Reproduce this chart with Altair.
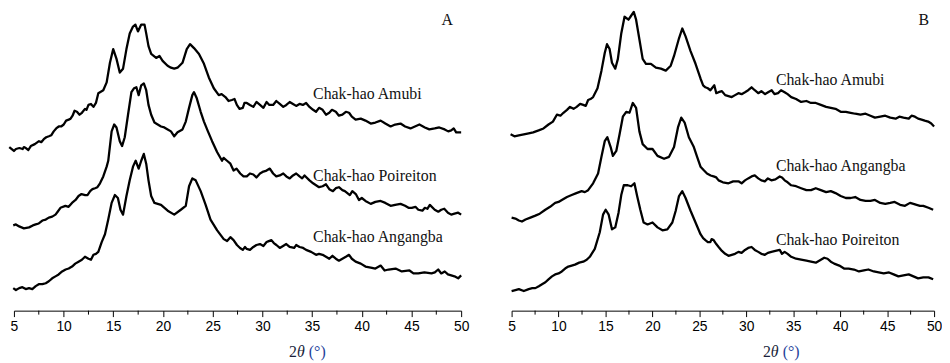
import altair as alt
import pandas as pd

# ---------------- Panel A data (2θ in degrees, intensity in arbitrary units) ----------------
A_amubi_x = [4.53, 5.2, 5.55, 5.87, 6.2, 6.7, 7.52, 8.0, 8.52, 9.0, 9.51, 10.01, 10.51, 10.9, 11.34, 11.84, 12.15, 12.5, 13.0, 13.49,
             13.99, 14.33, 14.66, 14.99, 15.32, 15.65, 15.98, 16.32, 16.65, 16.98, 17.22, 17.48, 17.81, 18.14, 18.31, 18.54, 18.81,
             19.31, 19.64, 19.96, 20.46, 20.8, 21.13, 21.46, 21.96, 22.39, 22.72, 23.12, 23.62, 24.12, 24.61, 25.11, 25.61, 26.28,
             26.93, 27.43, 28.03, 28.43, 29.09, 29.76, 30.42, 31.08, 31.75, 32.41, 33.08, 33.74, 34.07, 34.74, 35.4, 36.06, 36.73,
             37.39, 38.05, 38.72, 39.38, 40.37, 41.37, 42.37, 43.36, 44.36, 45.35, 46.35, 47.34, 48.34, 49.0, 49.5, 50.0,
             5.0, 6.0, 6.45, 7.1, 7.75, 8.25, 8.75, 9.25, 9.75, 10.25, 10.7, 11.1, 11.6, 12.3, 12.75, 13.25, 25.9, 26.6, 27.2,
             27.7, 28.2, 28.75, 29.4, 30.1, 30.7, 31.4, 32.1, 32.75, 33.4, 34.4, 35.1, 35.7, 36.4, 37.0, 37.7, 38.4, 39.0, 39.9,
             40.9, 41.9, 42.9, 43.9, 44.9, 45.8, 46.8, 47.8, 48.7, 49.25]
A_amubi_y = [167, 165, 166, 165, 166, 168, 173, 175, 178, 183, 188, 190, 195, 199, 203, 202, 206, 210, 208, 222,
             225, 233, 253, 267, 257, 243, 247, 267, 283, 290, 292, 285, 292, 292, 283, 270, 262,
             258, 260, 255, 250, 248, 247, 248, 253, 267, 272, 268, 262, 252, 238, 227, 220, 218,
             215, 210, 207, 212, 208, 210, 213, 210, 211, 210, 211, 211, 210, 208, 203, 205, 202,
             203, 200, 202, 195, 194, 192, 191, 190, 188, 188, 187, 186, 185, 184, 182, 182,
             163, 167, 164, 170, 172, 177, 179, 186, 188, 194, 196, 204, 200, 205, 211, 212, 221, 214, 216,
             206, 212, 210, 213, 207, 210, 214, 208, 213, 209, 212, 205, 207, 200, 205, 199, 203, 198, 196,
             191, 194, 188, 191, 186, 190, 185, 187, 183, 186]

A_poir_x = [4.93, 5.53, 6.52, 7.19, 7.86, 8.51, 9.18, 9.68, 10.18, 10.84, 11.5, 12.17, 12.67, 13.16, 13.66, 13.99, 14.33, 14.49,
            14.83, 15.09, 15.32, 15.65, 15.88, 16.15, 16.48, 16.82, 17.08, 17.32, 17.55, 17.81, 18.07, 18.31, 18.54, 18.81,
            19.14, 19.47, 19.8, 20.13, 20.47, 20.8, 21.13, 21.46, 21.96, 22.29, 22.62, 22.95, 23.12, 23.39, 23.79, 24.12,
            24.52, 24.94, 25.44, 25.94, 26.44, 26.78, 27.1, 27.77, 28.43, 29.09, 29.76, 30.42, 31.08, 31.75, 32.41, 33.08,
            33.74, 34.24, 34.74, 35.4, 36.06, 36.73, 37.39, 38.05, 38.55, 39.05, 39.72, 40.37, 41.37, 42.37, 43.36, 44.36,
            45.03, 45.69, 46.35, 46.85, 47.34, 48.0, 48.67, 49.33, 50.0,
            5.2, 6.0, 6.9, 7.5, 8.2, 8.85, 9.4, 10.5, 11.2, 11.8, 12.4, 12.9, 13.4, 26.1, 27.4, 28.1, 28.75, 29.4, 30.1,
            30.75, 31.4, 32.1, 32.75, 33.4, 34.0, 35.1, 35.7, 36.4, 37.1, 37.7, 38.3, 38.8, 39.4, 40.0, 40.9, 41.9, 42.9,
            43.9, 44.7, 45.4, 46.1, 46.6, 47.7, 48.3, 49.0, 49.7]
A_poir_y = [87, 86, 85, 88, 92, 95, 98, 105, 107, 110, 117, 118, 122, 125, 130, 137, 147, 153,
            183, 190, 187, 173, 168, 177, 200, 223, 227, 228, 220, 230, 232, 225, 210, 200,
            192, 190, 188, 187, 185, 183, 178, 182, 185, 193, 207, 220, 223, 217, 203, 193,
            183, 173, 162, 153, 153, 150, 143, 140, 137, 139, 140, 143, 140, 138, 137, 138,
            137, 138, 133, 128, 127, 124, 125, 123, 120, 122, 113, 112, 111, 110, 108, 107,
            105, 103, 105, 108, 103, 103, 100, 99, 98,
            88, 84, 87, 89, 93, 96, 101, 106, 113, 119, 118, 124, 126, 156, 145, 137, 140, 136, 142,
            145, 137, 140, 135, 140, 135, 130, 126, 129, 122, 126, 122, 118, 119, 115, 109, 112, 107,
            109, 105, 106, 102, 104, 101, 104, 98, 100]

A_ang_x = [4.93, 5.53, 6.19, 6.52, 7.19, 7.86, 8.51, 9.18, 9.85, 10.51, 11.17, 11.84, 12.5, 13.0, 13.49, 13.83, 14.16, 14.49,
           14.83, 15.16, 15.46, 15.72, 15.98, 16.32, 16.65, 16.98, 17.25, 17.55, 17.81, 18.07, 18.31, 18.54, 18.81, 19.14,
           19.8, 20.47, 21.13, 21.79, 22.29, 22.62, 22.95, 23.29, 23.79, 24.29, 24.78, 25.45, 26.11, 26.78, 27.44, 28.03,
           28.43, 29.09, 29.76, 30.42, 30.91, 31.41, 32.08, 32.74, 33.74, 34.4, 35.4, 36.06, 36.73, 37.39, 38.05, 38.72,
           39.38, 40.37, 41.37, 42.7, 44.03, 45.69, 47.02, 47.69, 48.67, 49.33, 50.0,
           5.2, 5.85, 6.85, 7.5, 8.2, 8.85, 9.5, 10.2, 10.85, 11.5, 12.15, 12.75, 13.25, 26.45, 27.1, 27.75, 28.25, 28.75,
           29.4, 30.1, 30.65, 31.15, 31.75, 32.4, 33.2, 33.4, 34.1, 34.9, 35.7, 36.4, 37.05, 37.7, 38.4, 39.0, 39.9, 40.9,
           41.9, 42.3, 43.4, 44.8, 45.2, 46.3, 47.35, 48.0, 48.35, 49.0, 49.7]
A_ang_y = [23, 23, 22, 23, 25, 27, 30, 35, 40, 43, 48, 52, 53, 57, 60, 70, 78, 93,
           110, 118, 115, 103, 98, 117, 133, 147, 153, 145, 153, 160, 150, 133, 117, 110,
           108, 102, 98, 103, 107, 127, 135, 133, 122, 108, 93, 82, 73, 75, 67, 62,
           63, 65, 68, 70, 72, 67, 66, 65, 65, 62, 57, 57, 53, 53, 53, 57,
           50, 45, 43, 42, 40, 38, 38, 42, 37, 35, 36,
           21, 24, 22, 27, 28, 33, 37, 42, 45, 50, 55, 52, 58, 71, 72, 64, 65, 62,
           67, 66, 71, 69, 64, 68, 64, 67, 64, 60, 58, 55, 56, 51, 55, 53, 48, 44,
           46, 41, 43, 41, 38, 39, 39, 38, 40, 36, 33]

# ---------------- Panel B data ----------------
B_amubi_x = [4.89, 5.77, 6.82, 7.88, 8.93, 9.82, 10.52, 11.22, 11.93, 12.63, 13.15, 13.68, 14.15, 14.57, 14.92, 15.16, 15.44,
             15.69, 16.04, 16.32, 16.68, 17.03, 17.45, 17.66, 18.01, 18.26, 18.61, 18.96, 19.31, 19.84, 20.37, 20.9, 21.42,
             21.95, 22.3, 22.83, 23.18, 23.53, 24.06, 24.59, 25.12, 25.64, 26.17, 26.59, 27.05, 27.75, 28.45, 29.16, 29.86,
             30.56, 31.27, 32.32, 33.38, 34.08, 34.78, 35.84, 36.89, 37.94, 39.0, 40.05, 41.11, 42.16, 43.22, 44.27, 45.33,
             46.74, 47.96, 48.67, 49.37, 50.0,
             5.3, 6.3, 7.3, 8.4, 9.4, 10.2, 10.9, 11.6, 12.3, 12.9, 13.4, 25.4, 25.9, 26.8, 27.4, 28.1, 28.8, 29.5, 30.2,
             30.9, 31.6, 32.0, 32.7, 33.0, 33.7, 34.4, 35.3, 36.4, 37.4, 38.5, 39.5, 40.6, 41.6, 42.7, 43.7, 44.8, 45.9,
             46.3, 47.3, 47.6, 48.3, 49.0, 49.7]
B_amubi_y = [180, 179, 181, 184, 190, 200, 202, 208, 208, 210, 215, 218, 227, 245, 263, 272, 267,
             253, 247, 257, 283, 300, 297, 300, 305, 297, 277, 257, 252, 252, 248, 247, 245,
             250, 260, 278, 288, 280, 265, 252, 237, 228, 225, 230, 223, 220, 218, 222, 223,
             228, 222, 223, 222, 223, 218, 213, 212, 210, 207, 203, 202, 200, 199, 198, 197,
             197, 198, 195, 193, 188,
             178, 180, 182, 186, 193, 199, 205, 206, 211, 209, 216, 230, 227, 222, 224, 219, 220, 221, 225,
             225, 224, 221, 225, 221, 225, 221, 216, 214, 212, 208, 206, 203, 201, 201, 197, 199, 196,
             198, 196, 199, 196, 194, 191]

B_ang_x = [5.0, 5.77, 6.48, 7.53, 8.59, 9.64, 10.35, 11.4, 12.46, 13.15, 13.68, 14.21, 14.57, 14.92, 15.2, 15.55, 15.79,
           16.15, 16.5, 16.85, 17.21, 17.56, 17.91, 18.26, 18.61, 18.96, 19.48, 20.01, 20.54, 21.24, 21.77, 22.3, 22.72,
           23.07, 23.43, 23.88, 24.41, 24.76, 25.12, 25.81, 26.52, 27.05, 28.1, 29.16, 29.86, 30.56, 31.27, 31.97, 32.67,
           33.56, 34.08, 34.78, 35.84, 36.89, 37.94, 39.0, 40.05, 41.11, 42.16, 43.22, 44.27, 45.33, 46.38, 47.44, 48.14,
           48.85, 49.9,
           5.4, 6.1, 7.0, 8.0, 9.1, 10.0, 10.9, 11.9, 12.8, 25.5, 26.2, 26.8, 27.5, 28.6, 29.5, 30.2, 30.9, 31.6, 32.3,
           33.1, 33.8, 34.4, 35.3, 36.4, 37.4, 38.5, 39.5, 40.6, 41.6, 42.7, 43.7, 44.8, 45.8, 46.9, 47.8, 48.5, 49.4]
B_ang_y = [95, 92, 93, 97, 103, 110, 113, 118, 122, 123, 130, 140, 157, 173, 177, 167, 158,
           163, 180, 198, 203, 202, 212, 207, 183, 170, 165, 165, 158, 155, 157, 167, 187,
           197, 192, 177, 167, 157, 147, 140, 137, 133, 130, 132, 133, 137, 135, 132, 133,
           137, 133, 128, 125, 123, 123, 122, 117, 115, 113, 112, 110, 110, 108, 110, 108,
           107, 103,
           94, 91, 95, 99, 106, 111, 116, 120, 121, 143, 138, 136, 131, 132, 130, 135, 138, 133, 135,
           134, 136, 131, 127, 123, 125, 121, 120, 115, 116, 112, 113, 109, 111, 107, 109, 107, 105]

B_poir_x = [5.0, 5.77, 6.82, 7.53, 8.24, 8.93, 9.64, 10.35, 11.04, 11.75, 12.63, 13.33, 13.86, 14.39, 14.74, 15.02, 15.34,
            15.69, 16.04, 16.39, 16.68, 16.95, 17.37, 17.73, 18.08, 18.37, 18.71, 19.06, 19.48, 20.01, 20.54, 21.07, 21.59,
            22.12, 22.48, 22.83, 23.18, 23.53, 24.06, 24.59, 25.12, 25.64, 26.17, 26.52, 27.05, 27.75, 28.45, 29.16, 29.86,
            30.56, 31.27, 31.97, 32.67, 33.56, 34.08, 34.78, 35.84, 36.89, 37.94, 38.65, 39.36, 40.41, 41.47, 42.52, 43.58,
            44.64, 45.69, 46.74, 47.8, 48.85, 49.9,
            5.4, 6.3, 7.2, 7.9, 8.6, 9.3, 10.0, 10.7, 11.4, 12.2, 13.0, 25.4, 25.9, 26.3, 26.8, 27.4, 28.1, 28.8, 29.5,
            30.2, 30.9, 31.6, 32.3, 33.1, 33.8, 34.4, 35.3, 36.4, 37.4, 38.3, 39.0, 39.9, 40.9, 42.0, 43.0, 44.1, 45.2,
            46.2, 47.3, 48.3, 49.4]
B_poir_y = [20, 22, 22, 23, 27, 32, 37, 40, 45, 47, 50, 55, 63, 80, 98, 103, 98,
            83, 85, 100, 118, 128, 128, 127, 130, 117, 103, 90, 88, 90, 85, 82, 83,
            90, 102, 117, 122, 115, 102, 90, 78, 72, 70, 72, 65, 58, 57, 60, 62,
            65, 60, 57, 60, 62, 60, 55, 52, 50, 52, 53, 48, 43, 42, 41, 40,
            38, 37, 36, 35, 34, 32,
            21, 20, 23, 25, 29, 35, 38, 43, 46, 49, 52, 74, 70, 73, 68, 61, 56, 58, 59,
            64, 62, 58, 59, 61, 58, 58, 53, 51, 49, 54, 50, 46, 43, 40, 42, 39, 39,
            35, 37, 33, 34]

# Sample labels: (name, 2θ at text start, intensity at text centre)
A_labels = ["Chak-hao Amubi", "Chak-hao Poireiton", "Chak-hao Angangba"]
A_label_x = [35.1, 35.1, 35.1]
A_label_y = [221, 137, 75]
B_labels = ["Chak-hao Amubi", "Chak-hao Angangba", "Chak-hao Poireiton"]
B_label_x = [33.15, 33.15, 33.15]
B_label_y = [235, 148, 72]

major_ticks = [5, 10, 15, 20, 25, 30, 35, 40, 45, 50]
minor_ticks = [7.5, 12.5, 17.5, 22.5, 27.5, 32.5, 37.5, 42.5, 47.5]

SERIF = "Liberation Serif"
SANS = "Liberation Sans"
H = 302
Y_DOMAIN = [0, 305]


def curves_df(series):
    frames = []
    for name, xs, ys in series:
        d = pd.DataFrame({"theta2": xs, "intensity": ys})
        d = d.sort_values("theta2").reset_index(drop=True)
        d["sample"] = name
        d["order"] = range(len(d))
        frames.append(d)
    return pd.concat(frames, ignore_index=True)


def panel(series, labels, lx, ly, letter, letter_x, width, title_x0):
    xscale = alt.Scale(domain=[5, 50], nice=False, zero=False)
    yscale = alt.Scale(domain=Y_DOMAIN, nice=False, zero=False)
    df = curves_df(series)

    lines = alt.Chart(df).mark_line(color="black", strokeWidth=2.3, strokeJoin="round").encode(
        x=alt.X("theta2:Q", scale=xscale,
                axis=alt.Axis(values=major_ticks, title="", grid=False, domainColor="black", domainWidth=1,
                              tickColor="black", tickSize=6, tickWidth=1, labelFont=SANS, labelFontSize=14,
                              labelColor="black", labelPadding=3, labelFlush=False, format="d")),
        y=alt.Y("intensity:Q", scale=yscale, axis=None),
        detail="sample:N",
        order="order:Q",
    )

    minor = alt.Chart(pd.DataFrame({"t": minor_ticks})).mark_rule(color="black", strokeWidth=1).encode(
        x=alt.X("t:Q", scale=xscale),
        y=alt.value(H),
        y2=alt.value(H + 4),
    )

    ldf = pd.DataFrame({"label": labels, "x": lx, "y": ly})
    texts = alt.Chart(ldf).mark_text(align="left", baseline="middle", font=SERIF, fontSize=16,
                                     color="#111111").encode(
        x=alt.X("x:Q", scale=xscale), y=alt.Y("y:Q", scale=yscale), text="label:N")

    letter_mark = alt.Chart(pd.DataFrame({"t": [letter], "x": [letter_x], "y": [305]})).mark_text(
        align="center", baseline="top", font=SERIF, fontSize=16, color="#111111").encode(
        x=alt.X("x:Q", scale=xscale), y=alt.Y("y:Q", scale=yscale), text="t:N")

    t_two = alt.Chart(pd.DataFrame({"t": ["2"]})).mark_text(
        align="left", baseline="middle", font=SERIF, fontSize=16, color="#1a1f3a").encode(
        x=alt.value(title_x0), y=alt.value(H + 42), text="t:N")
    t_theta = alt.Chart(pd.DataFrame({"t": ["θ"]})).mark_text(
        align="left", baseline="middle", font=SERIF, fontSize=16, fontStyle="italic", color="#1a1f3a").encode(
        x=alt.value(title_x0 + 8), y=alt.value(H + 42), text="t:N")
    t_unit = alt.Chart(pd.DataFrame({"t": ["(°)"]})).mark_text(
        align="left", baseline="middle", font=SERIF, fontSize=16, color="#1f3f9a").encode(
        x=alt.value(title_x0 + 20), y=alt.value(H + 42), text="t:N")

    return alt.layer(lines, minor, texts, letter_mark, t_two, t_theta, t_unit).properties(
        width=width, height=H, view=alt.ViewBackground(stroke="transparent", strokeWidth=0))


panelA = panel([("Chak-hao Amubi", A_amubi_x, A_amubi_y),
                ("Chak-hao Poireiton", A_poir_x, A_poir_y),
                ("Chak-hao Angangba", A_ang_x, A_ang_y)],
               A_labels, A_label_x, A_label_y, "A", 48.6, 452, 278)
panelB = panel([("Chak-hao Amubi", B_amubi_x, B_amubi_y),
                ("Chak-hao Angangba", B_ang_x, B_ang_y),
                ("Chak-hao Poireiton", B_poir_x, B_poir_y)],
               B_labels, B_label_x, B_label_y, "B", 48.9, 427, 254)

chart = alt.hconcat(panelA, panelB, spacing=51, bounds="flush").properties(
    padding={"left": 0, "top": 0, "right": 0, "bottom": 0},
    background="white",
).configure_view(stroke="transparent", strokeWidth=0)

chart.save("out.html", embed_options={"renderer": "svg", "actions": False})
